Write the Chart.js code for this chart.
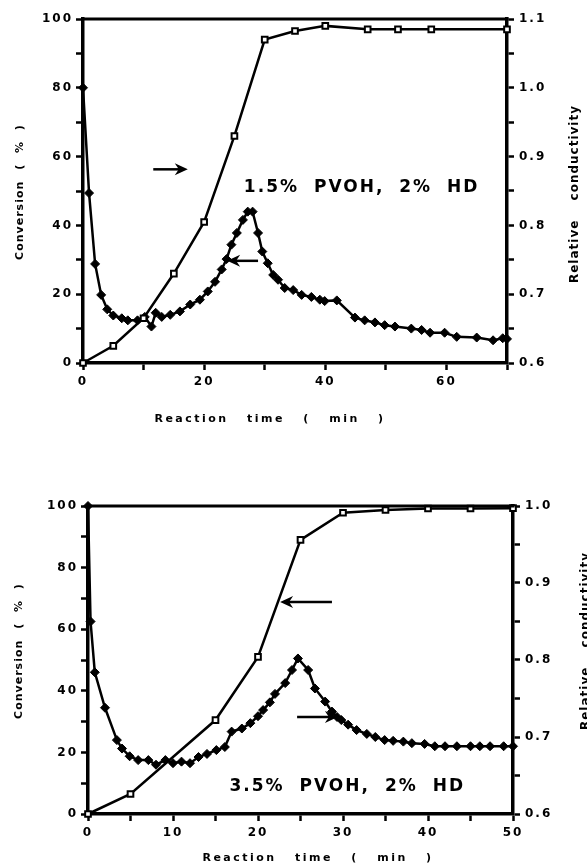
<!DOCTYPE html>
<html>
<head>
<meta charset="utf-8">
<script src="https://cdn.jsdelivr.net/npm/chart.js@4.4.1/dist/chart.umd.min.js"></script>
<style>
  html, body { margin: 0; padding: 0; background: #fff; }
  body { width: 587px; height: 866px; position: relative; overflow: hidden; }
  canvas { position: absolute; left: 0; }
  #top { top: 0; }
  #bottom { top: 430px; }
</style>
</head>
<body>
<canvas id="top" width="587" height="430"></canvas>
<canvas id="bottom" width="587" height="436"></canvas>
<script>
// --- top panel: 1.5% PVOH, 2% HD ---
const topConvTime = [0, 5, 10, 15, 20, 25, 30, 35, 40, 47, 52, 57.5, 70]
const topConv = [0, 5, 13, 26, 41, 66, 94, 96.5, 98, 97, 97, 97, 97]

const topCondTime = [0, 1, 2, 3, 4, 5, 6.4, 7.4, 9, 10.2, 11.3, 12, 13, 14.4, 16, 17.7, 19.3, 20.6,
  21.8, 22.9, 23.7, 24.5, 25.4, 26.4, 27.2, 28, 28.9, 29.6, 30.5, 31.4, 32.2, 33.3, 34.7, 36.1,
  37.7, 39.1, 39.9, 41.9, 44.9, 46.5, 48.2, 49.8, 51.5, 54.2, 55.9, 57.3, 59.7, 61.7, 65, 67.7, 69.3, 70]
const topCond = [1.0, 0.847, 0.744, 0.699, 0.678, 0.669, 0.665, 0.662, 0.662, 0.667, 0.653, 0.673, 0.667, 0.670,
  0.675, 0.685, 0.692, 0.704, 0.718, 0.736, 0.751, 0.772, 0.789, 0.808, 0.820, 0.820, 0.789, 0.762,
  0.745, 0.728, 0.721, 0.709, 0.706, 0.699, 0.696, 0.692, 0.690, 0.691, 0.666, 0.662, 0.659, 0.655,
  0.653, 0.650, 0.648, 0.644, 0.644, 0.638, 0.637, 0.633, 0.636, 0.635]

const topXLabels = [0, 20, 40, 60]
const topYLabels = [0, 20, 40, 60, 80, 100]
const topY2Labels = ["0.6", "0.7", "0.8", "0.9", "1.0", "1.1"]

// --- bottom panel: 3.5% PVOH, 2% HD ---
const botConvTime = [0, 5, 15, 20, 25, 30, 35, 40, 45, 50]
const botConv = [0, 6.5, 30.5, 51, 89, 97.8, 98.7, 99.2, 99.2, 99.3]

const botCondTime = [0, 0.3, 0.8, 2, 3.4, 4, 4.9, 5.9, 7.1, 8, 9.1, 10, 11, 12, 13, 14, 15.1, 16.1, 16.9,
  18.1, 19.1, 20, 20.6, 21.4, 22, 23.2, 24, 24.7, 25.9, 26.7, 27.9, 28.7, 29.3, 29.8, 30.6, 31.6,
  32.8, 33.8, 34.9, 35.9, 37.1, 38.1, 39.6, 40.8, 42, 43.4, 45, 46.1, 47.3, 48.9, 50]
const botCond = [1.0, 0.85, 0.784, 0.738, 0.696, 0.685, 0.675, 0.670, 0.670, 0.664, 0.670, 0.666, 0.668,
  0.666, 0.674, 0.678, 0.683, 0.687, 0.707, 0.711, 0.718, 0.727, 0.735, 0.745, 0.756, 0.770, 0.787,
  0.802, 0.787, 0.763, 0.746, 0.733, 0.726, 0.722, 0.716, 0.709, 0.704, 0.700, 0.696, 0.695, 0.694,
  0.692, 0.691, 0.688, 0.688, 0.688, 0.688, 0.688, 0.688, 0.688, 0.688]

const botXLabels = [0, 10, 20, 30, 40, 50]
const botYLabels = [0, 20, 40, 60, 80, 100]
const botY2Labels = ["0.6", "0.7", "0.8", "0.9", "1.0"]

const FONT = "'DejaVu Sans'"
const pairs = (xs, ys) => xs.map((x, i) => ({ x, y: ys[i] }))

// frame, annotations and rotated titles
const decor = {
  id: "decor",
  beforeDraw(chart) {
    chart.ctx.letterSpacing = "2px"
  },
  afterDraw(chart, args, o) {
    const { ctx, chartArea: a, scales } = chart
    ctx.save()
    ctx.strokeStyle = "#000"
    ctx.fillStyle = "#000"
    ctx.lineWidth = 3
    ctx.beginPath()
    ctx.moveTo(a.left - 1.5, a.top)
    ctx.lineTo(a.right + 1.5, a.top)
    ctx.stroke()

    // arrows
    ctx.lineWidth = 2.5
    o.arrows.forEach(([x0, x1, y]) => {
      const px0 = scales.x.getPixelForValue(x0)
      const px1 = scales.x.getPixelForValue(x1)
      const py = scales.y.getPixelForValue(y)
      const dir = Math.sign(px1 - px0)
      ctx.beginPath()
      ctx.moveTo(px0, py)
      ctx.lineTo(px1 - dir * 8, py)
      ctx.stroke()
      ctx.beginPath()
      ctx.moveTo(px1, py)
      ctx.lineTo(px1 - dir * 13, py - 6)
      ctx.lineTo(px1 - dir * 9, py)
      ctx.lineTo(px1 - dir * 13, py + 6)
      ctx.closePath()
      ctx.fill()
    })

    // label
    ctx.textAlign = "center"
    ctx.textBaseline = "middle"
    ctx.font = "bold 17px " + FONT
    ctx.letterSpacing = "2px"
    ctx.wordSpacing = "7px"
    ctx.fillText(o.label, scales.x.getPixelForValue(o.labelAt[0]), scales.y.getPixelForValue(o.labelAt[1]))

    // axis titles
    const title = (text, x, y, rot, size, ls, ws) => {
      ctx.save()
      ctx.font = "bold " + size + "px " + FONT
      ctx.letterSpacing = ls + "px"
      ctx.wordSpacing = ws + "px"
      ctx.translate(x, y)
      ctx.rotate(rot)
      ctx.fillText(text, 0, 0)
      ctx.restore()
    }
    title("Reaction time ( min )", o.xTitle[0], o.xTitle[1], 0, 11, 2.5, 12)
    title("Conversion ( % )", o.yTitle[0], o.yTitle[1], -Math.PI / 2, 11, 1, 6)
    title("Relative conductivity", o.y2Title[0], o.y2Title[1], -Math.PI / 2, 12, 1, 14)
    ctx.restore()
  }
}

function axisStyle(extra) {
  return Object.assign({
    grid: { drawOnChartArea: false, drawTicks: true, tickLength: 7, tickColor: "#000", tickWidth: 2.5 },
    border: { color: "#000", width: 3.5 }
  }, extra)
}

function tickFont() {
  return { family: FONT, weight: "bold", size: 12 }
}

function makeChart(id, p) {
  return new Chart(document.getElementById(id), {
    type: "line",
    data: {
      datasets: [
        {
          data: p.conv,
          yAxisID: "y",
          borderColor: "#000",
          borderWidth: 2.5,
          pointStyle: "rect",
          pointRadius: 4,
          pointBackgroundColor: "#fff",
          pointBorderColor: "#000",
          pointBorderWidth: 2,
          tension: 0,
          clip: false,
          order: 1
        },
        {
          data: p.cond,
          yAxisID: "y2",
          borderColor: "#000",
          borderWidth: 2.5,
          pointStyle: "rectRot",
          pointRadius: 4.5,
          pointBackgroundColor: "#000",
          pointBorderColor: "#000",
          pointBorderWidth: 1,
          tension: 0,
          clip: false,
          order: 2
        }
      ]
    },
    options: {
      responsive: false,
      animation: false,
      devicePixelRatio: 1,
      layout: { padding: { top: p.padTop, left: 0, right: 0, bottom: 0 } },
      plugins: {
        legend: { display: false },
        tooltip: { enabled: false },
        decor: p.decor
      },
      scales: {
        x: axisStyle({
          type: "linear",
          min: 0,
          max: p.xMax,
          afterFit: s => { s.height = p.xH },
          ticks: {
            stepSize: p.xStep,
            autoSkip: false,
            maxRotation: 0,
            padding: 5,
            color: "#000",
            font: tickFont(),
            callback: v => p.xLabels.includes(v) ? String(v) : ""
          }
        }),
        y: axisStyle({
          position: "left",
          min: 0,
          max: 100,
          afterFit: s => { s.width = p.yW },
          ticks: {
            stepSize: 10,
            autoSkip: false,
            padding: 3,
            color: "#000",
            font: tickFont(),
            callback: v => p.yLabels.includes(v) ? String(v) : ""
          }
        }),
        y2: axisStyle({
          position: "right",
          min: 0.6,
          max: p.y2Max,
          afterFit: s => { s.width = p.y2W },
          ticks: {
            stepSize: 0.05,
            autoSkip: false,
            padding: 5,
            color: "#000",
            font: tickFont(),
            callback: v => {
              const r = Math.round(v * 100)
              const s = (r / 100).toFixed(1)
              return r % 10 === 0 && p.y2Labels.includes(s) ? s : ""
            }
          }
        })
      }
    },
    plugins: [decor]
  })
}

makeChart("top", {
  conv: pairs(topConvTime, topConv),
  cond: pairs(topCondTime, topCond),
  xMax: 70, xStep: 10, y2Max: 1.1,
  xLabels: topXLabels, yLabels: topYLabels, y2Labels: topY2Labels,
  padTop: 19, xH: 67, yW: 83, y2W: 80,
  decor: {
    label: "1.5% PVOH, 2% HD",
    labelAt: [46, 51],
    arrows: [[11.6, 17.3, 56.3], [28.9, 23.8, 29.7]],
    xTitle: [270, 419],
    yTitle: [20, 192],
    y2Title: [575, 194]
  }
})

makeChart("bottom", {
  conv: pairs(botConvTime, botConv),
  cond: pairs(botCondTime, botCond),
  xMax: 50, xStep: 5, y2Max: 1.0,
  xLabels: botXLabels, yLabels: botYLabels, y2Labels: botY2Labels,
  padTop: 76, xH: 52, yW: 88, y2W: 74,
  decor: {
    label: "3.5% PVOH, 2% HD",
    labelAt: [30.5, 8.8],
    arrows: [[28.7, 22.6, 68.8], [24.6, 29.4, 31.5]],
    xTitle: [318, 428],
    yTitle: [19, 221],
    y2Title: [586, 211]
  }
})
</script>
</body>
</html>
